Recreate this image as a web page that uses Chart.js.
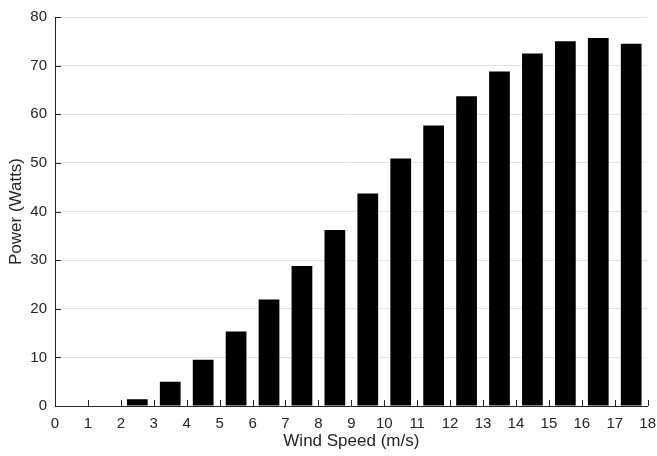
<!DOCTYPE html>
<html>
<head>
<meta charset="utf-8">
<script src="https://cdn.jsdelivr.net/npm/chart.js@4"></script>
<style>
  html, body { margin: 0; padding: 0; background: #fff; }
  #wrap { width: 657px; height: 456px; }
</style>
</head>
<body>
<div id="wrap"><canvas id="powerChart" width="657" height="456"></canvas></div>
<script>
// Wind turbine power curve, bars centred on half-integer wind speeds
const windSpeeds = [0.5, 1.5, 2.5, 3.5, 4.5, 5.5, 6.5, 7.5, 8.5, 9.5, 10.5, 11.5, 12.5, 13.5, 14.5, 15.5, 16.5, 17.5];
const powerWatts = [0, 0, 1.4, 5.0, 9.5, 15.3, 21.9, 28.8, 36.2, 43.7, 50.9, 57.7, 63.7, 68.8, 72.5, 75.0, 75.7, 74.5];
const xTicks = [0, 1, 2, 3, 4, 5, 6, 7, 8, 9, 10, 11, 12, 13, 14, 15, 16, 17, 18];
const yTicks = [0, 10, 20, 30, 40, 50, 60, 70, 80];

const axisColor = '#262626';
const gridColor = '#e3e3e3';
const fontFamily = '"Liberation Sans", Arial, Helvetica, sans-serif';

// MATLAB style ticks point into the plot box
const inwardTicks = {
  id: 'inwardTicks',
  afterDraw(chart) {
    const { ctx, chartArea, scales } = chart;
    ctx.save();
    ctx.strokeStyle = axisColor;
    ctx.lineWidth = 1;
    ctx.beginPath();
    xTicks.forEach(v => {
      const px = Math.round(scales.x.getPixelForValue(v)) + 0.5;
      ctx.moveTo(px, chartArea.bottom);
      ctx.lineTo(px, chartArea.bottom - 6);
    });
    yTicks.forEach(v => {
      const py = Math.round(scales.y.getPixelForValue(v)) + 0.5;
      ctx.moveTo(chartArea.left, py);
      ctx.lineTo(chartArea.left + 6, py);
    });
    ctx.stroke();
    ctx.restore();
  }
};

const ctx = document.getElementById('powerChart').getContext('2d');
const chart = new Chart(ctx, {
  type: 'bar',
  data: {
    datasets: [{
      label: 'Power',
      data: windSpeeds.map((x, i) => ({ x, y: powerWatts[i] })),
      backgroundColor: '#000000',
      borderColor: '#1a1a1a',
      borderWidth: 0,
      barPercentage: 0.63,
      categoryPercentage: 1
    }]
  },
  options: {
    responsive: false,
    animation: false,
    layout: { padding: { top: 15, right: 9, left: 0, bottom: 0 } },
    plugins: { legend: { display: false }, tooltip: { enabled: false } },
    scales: {
      x: {
        type: 'linear',
        offset: false,
        min: 0, max: 18,
        afterBuildTicks: scale => { scale.ticks = xTicks.map(v => ({ value: v })); },
        afterFit: scale => { scale.height = 50; },
        grid: { display: false, offset: false },
        border: { display: true, color: axisColor, width: 1 },
        ticks: { color: axisColor, font: { family: fontFamily, size: 15 }, padding: 1, maxRotation: 0, autoSkip: false },
        title: { display: true, text: 'Wind Speed (m/s)', color: axisColor, font: { family: fontFamily, size: 17 }, padding: { top: 0, bottom: 4 } }
      },
      y: {
        min: 0, max: 80,
        afterBuildTicks: scale => { scale.ticks = yTicks.map(v => ({ value: v })); },
        afterFit: scale => { scale.width = 55; },
        grid: { color: gridColor, lineWidth: 1, drawTicks: false },
        border: { display: true, color: axisColor, width: 1 },
        ticks: { color: axisColor, font: { family: fontFamily, size: 15 }, padding: 8 },
        title: { display: true, text: 'Power (Watts)', color: axisColor, font: { family: fontFamily, size: 17 }, padding: { top: 6, bottom: 0 } }
      }
    }
  },
  plugins: [inwardTicks]
});
</script>
</body>
</html>
